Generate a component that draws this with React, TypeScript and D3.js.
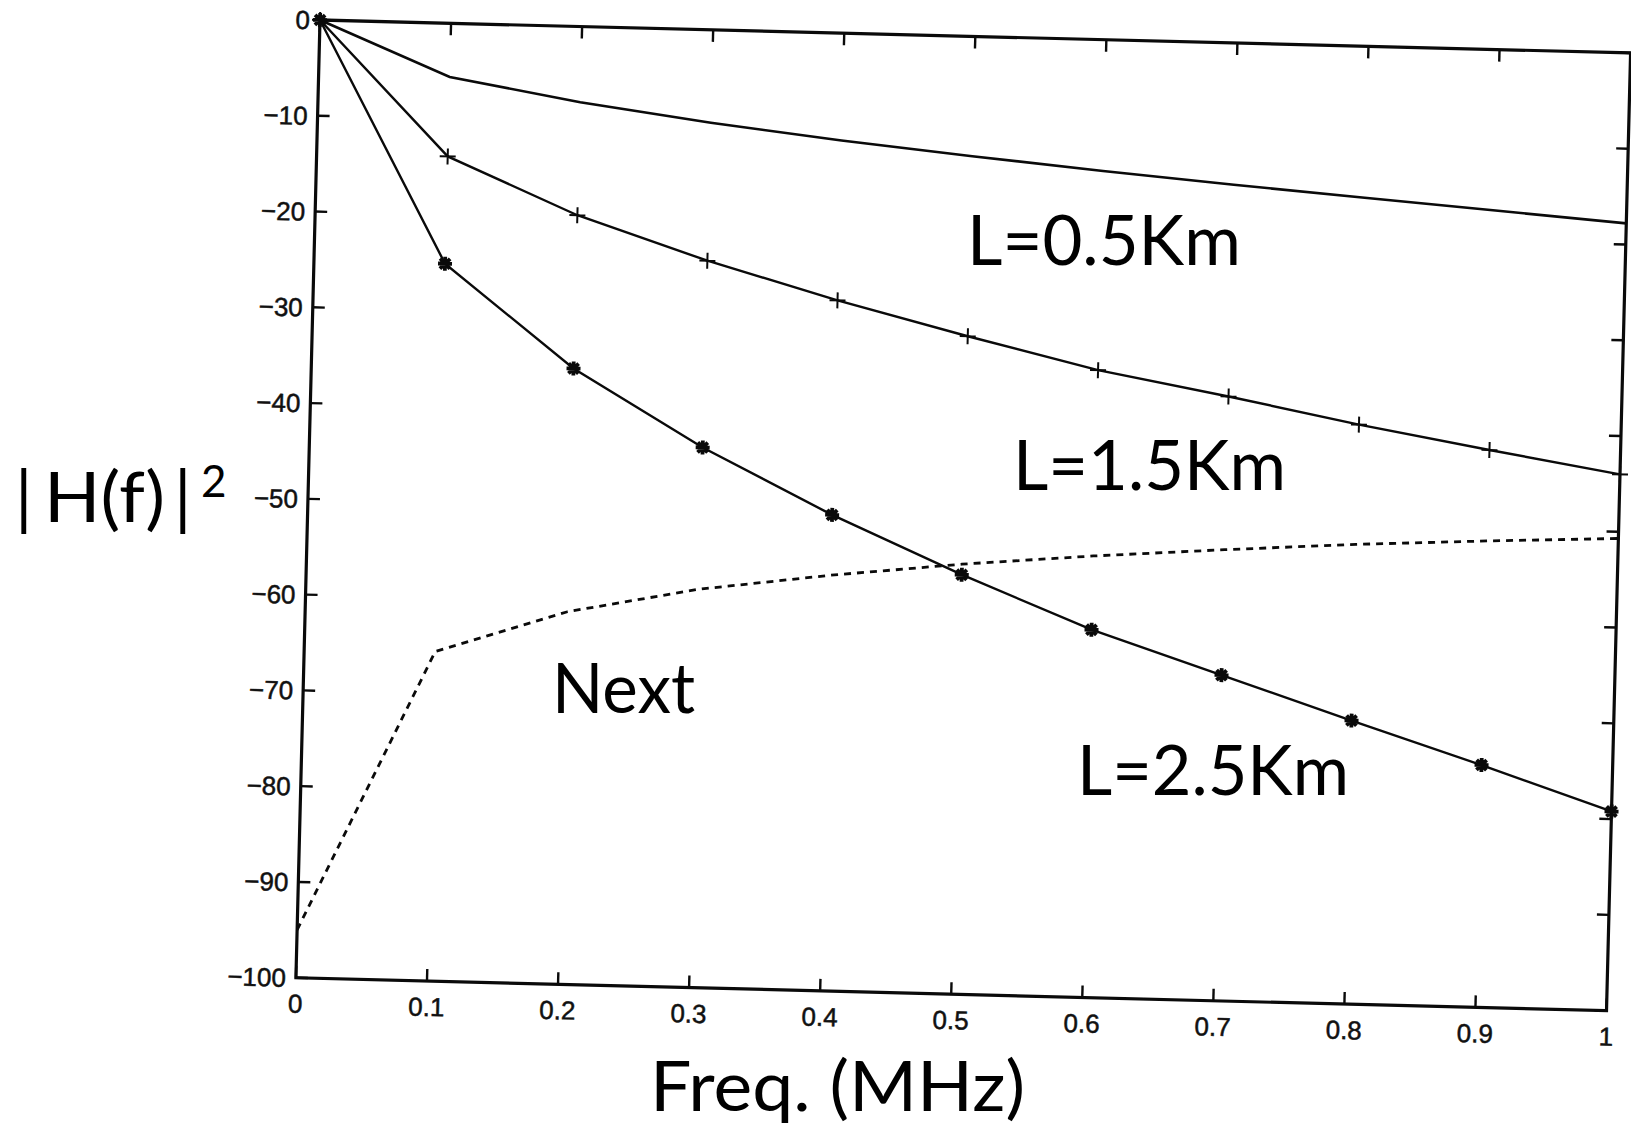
import React from "react";
import * as d3 from "d3";

// frequency samples (MHz), shared by every curve
const freq = [0, 0.1, 0.2, 0.3, 0.4, 0.5, 0.6, 0.7, 0.8, 0.9, 1];

// |H(f)|^2 in dB
const l05 = [0, -5.6, -7.9, -9.7, -11.2, -12.5, -13.7, -14.8, -15.8, -16.8, -17.8];
const l15 = [0, -13.9, -19.7, -24.1, -27.9, -31.3, -34.5, -36.9, -39.5, -41.8, -44.0];
const l25 = [0, -25.1, -35.7, -43.6, -50.3, -56.2, -61.6, -66.0, -70.4, -74.7, -79.2];
const next = [-95.0, -65.6, -61.1, -58.4, -56.6, -55.1, -53.9, -52.9, -52.0, -51.3, -50.7];

const xTicks = [0, 0.1, 0.2, 0.3, 0.4, 0.5, 0.6, 0.7, 0.8, 0.9, 1];
const xTickLabels = ["0", "0.1", "0.2", "0.3", "0.4", "0.5", "0.6", "0.7", "0.8", "0.9", "1"];
const yTicks = [0, -10, -20, -30, -40, -50, -60, -70, -80, -90, -100];
const yTickLabels = ["0", "\u221210", "\u221220", "\u221230", "\u221240", "\u221250", "\u221260", "\u221270", "\u221280", "\u221290", "\u2212100"];

const W = 1311;
const H = 958;
const TICK = 12;
const INK = "#0a0a0a";

const App = () => {
  const x = d3.scaleLinear().domain([0, 1]).range([0, W]);
  const y = d3.scaleLinear().domain([-100, 0]).range([H, 0]);

  const line = (vals: number[]) =>
    d3
      .line<number>()
      .x((_, i) => x(freq[i]))
      .y((d) => y(d))(vals) || "";

  const overlay = {
    fontFamily: "Lato, 'Open Sans', sans-serif",
    fontSize: 70,
    fill: "#000",
  } as const;

  const tickFont = {
    fontFamily: "'Liberation Sans', Arial, sans-serif",
    fontSize: 26,
    fill: "#111",
    stroke: "#111",
    strokeWidth: 0.5,
  } as const;

  return (
    <svg
      width={1631}
      height={1127}
      style={{ position: "absolute", left: 0, top: 0, background: "#fff" }}
    >
      {/* the scanned plot sits slightly rotated on the page */}
      <g transform="translate(320,20) rotate(1.44)">
        <rect x={0} y={0} width={W} height={H} fill="none" stroke={INK} strokeWidth={3.2} />

        {xTicks.map((t, i) => (
          <g key={"x" + i}>
            <line x1={x(t)} x2={x(t)} y1={H} y2={H - TICK} stroke={INK} strokeWidth={2.4} />
            <line x1={x(t)} x2={x(t)} y1={0} y2={TICK} stroke={INK} strokeWidth={2.4} />
            <text x={x(t)} y={H + 35} textAnchor="middle" {...tickFont}>
              {xTickLabels[i]}
            </text>
          </g>
        ))}

        {yTicks.map((t, i) => (
          <g key={"y" + i}>
            <line x1={0} x2={TICK} y1={y(t)} y2={y(t)} stroke={INK} strokeWidth={2.4} />
            <line x1={W} x2={W - TICK} y1={y(t)} y2={y(t)} stroke={INK} strokeWidth={2.4} />
            <text x={-10} y={y(t)} dy="0.36em" textAnchor="end" {...tickFont}>
              {yTickLabels[i]}
            </text>
          </g>
        ))}

        <path d={line(l05)} fill="none" stroke={INK} strokeWidth={2.6} />
        <path d={line(l15)} fill="none" stroke={INK} strokeWidth={2.4} />
        <path d={line(l25)} fill="none" stroke={INK} strokeWidth={2.4} />
        <path d={line(next)} fill="none" stroke={INK} strokeWidth={2.8} strokeDasharray="7,6" />

        {l15.map((v, i) => (
          <path
            key={"p" + i}
            transform={`translate(${x(freq[i])},${y(v)})`}
            d="M-8,0H8M0,-8V8"
            stroke={INK}
            strokeWidth={2}
          />
        ))}
        {l25.map((v, i) => (
          <path
            key={"s" + i}
            transform={`translate(${x(freq[i])},${y(v)})`}
            d="M-7,0H7M0,-7V7M-5,-5L5,5M-5,5L5,-5"
            stroke={INK}
            strokeWidth={3.8}
          />
        ))}
      </g>

      {/* labels added on top of the scan */}
      <text x={15} y={522} {...overlay}>|</text>
      <text x={44} y={522} {...overlay} textLength={121} lengthAdjust="spacingAndGlyphs">
        H(f)
      </text>
      <text x={174} y={522} {...overlay}>|</text>
      <text x={201} y={497} {...overlay} fontSize={44}>
        2
      </text>
      <text x={967} y={265} {...overlay} textLength={274} lengthAdjust="spacingAndGlyphs">
        L=0.5Km
      </text>
      <text x={1013} y={490} {...overlay} textLength={273} lengthAdjust="spacingAndGlyphs">
        L=1.5Km
      </text>
      <text x={1077} y={795} {...overlay} textLength={272} lengthAdjust="spacingAndGlyphs">
        L=2.5Km
      </text>
      <text x={552} y={713} {...overlay} textLength={143} lengthAdjust="spacingAndGlyphs">
        Next
      </text>
      <text x={650} y={1111} {...overlay} textLength={375} lengthAdjust="spacingAndGlyphs">
        Freq. (MHz)
      </text>
    </svg>
  );
};

export default App;
